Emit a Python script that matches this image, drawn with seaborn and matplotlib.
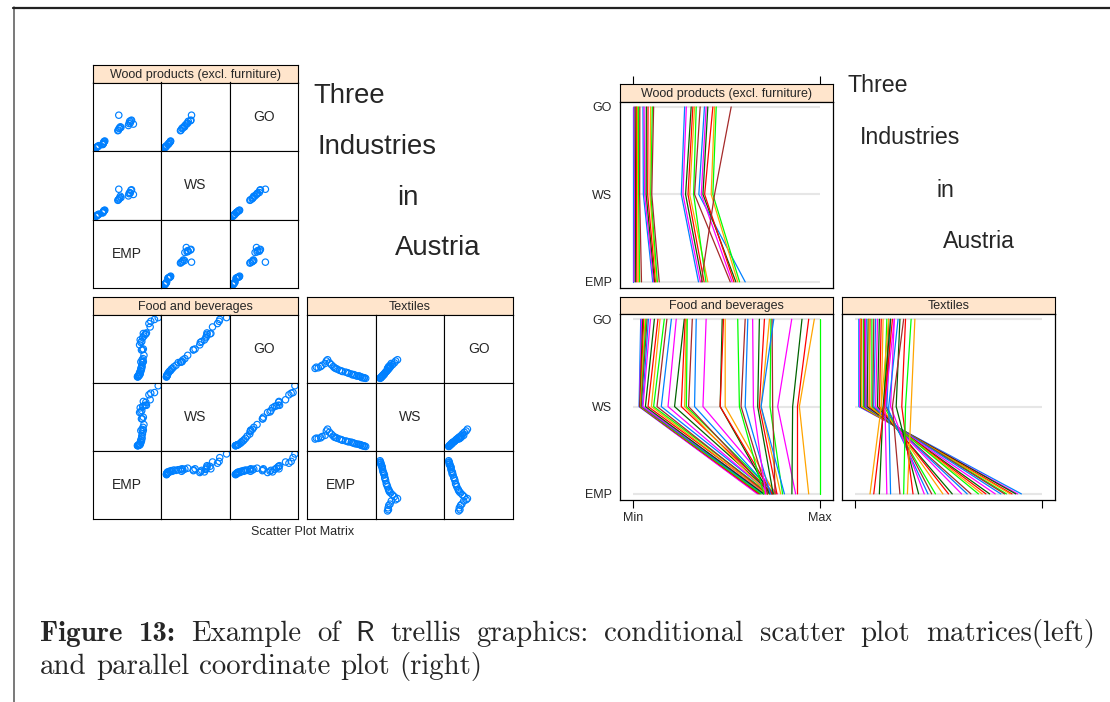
import numpy as np
import pandas as pd
import matplotlib
matplotlib.use("Agg")
import matplotlib.pyplot as plt
from matplotlib.lines import Line2D
import seaborn as sns

W, H = 1110, 702

# values scaled 0 (Min) .. 1 (Max) over all three industries
wood_go = [0.0, 0.005, 0.011, 0.018, 0.023, 0.028, 0.036, 0.053, 0.059, 0.071, 0.08, 0.094, 0.103, 0.11,
           0.276, 0.285, 0.311, 0.32, 0.329, 0.338, 0.359, 0.382, 0.391, 0.4, 0.427, 0.436, 0.445, 0.525]
wood_ws = [0.0, 0.008, 0.013, 0.018, 0.025, 0.03, 0.035, 0.055, 0.062, 0.07, 0.078, 0.09, 0.095, 0.1,
           0.258, 0.267, 0.281, 0.294, 0.303, 0.324, 0.329, 0.352, 0.365, 0.374, 0.383, 0.418, 0.427, 0.436]
wood_emp = [0.0, 0.005, 0.012, 0.02, 0.028, 0.035, 0.045, 0.105, 0.11, 0.115, 0.12, 0.125, 0.13, 0.14,
            0.35, 0.36, 0.37, 0.38, 0.40, 0.39, 0.52, 0.60, 0.53, 0.55, 0.54, 0.56, 0.57, 0.365]

food_go = [0.041, 0.046, 0.052, 0.057, 0.064, 0.069, 0.075, 0.082, 0.093, 0.114, 0.133, 0.144, 0.167, 0.181,
           0.205, 0.231, 0.274, 0.279, 0.285, 0.290, 0.317, 0.338, 0.391, 0.477, 0.484, 0.493, 0.560, 0.600,
           0.614, 0.640, 0.676, 0.703, 0.730, 0.738, 0.744, 0.753, 0.849, 0.904, 0.940, 0.970, 1.000]
food_ws = [0.032, 0.034, 0.036, 0.038, 0.040, 0.042, 0.044, 0.050, 0.053, 0.066, 0.080, 0.098, 0.110, 0.128,
           0.151, 0.187, 0.222, 0.258, 0.276, 0.285, 0.297, 0.329, 0.374, 0.466, 0.466, 0.493, 0.569, 0.578,
           0.600, 0.644, 0.667, 0.676, 0.685, 0.733, 0.747, 0.685, 0.774, 0.854, 0.880, 0.890, 1.000]
food_emp = [0.67, 0.665, 0.68, 0.675, 0.69, 0.685, 0.70, 0.695, 0.71, 0.70, 0.72, 0.715, 0.73, 0.72,
            0.74, 0.735, 0.745, 0.75, 0.72, 0.76, 0.74, 0.755, 0.77, 0.73, 0.745, 0.76, 0.70, 0.72,
            0.735, 0.71, 0.75, 0.77, 0.79, 0.80, 0.76, 0.81, 0.87, 0.85, 0.88, 0.94, 1.0]

tex_go = [0.02, 0.025, 0.03, 0.035, 0.03, 0.045, 0.05, 0.06, 0.055, 0.07, 0.08, 0.075, 0.09, 0.10, 0.11,
          0.12, 0.13, 0.14, 0.15, 0.17, 0.18, 0.19, 0.21, 0.24, 0.27, 0.32, 0.30, 0.26, 0.23, 0.21, 0.19,
          0.20, 0.18]
tex_ws = [0.02, 0.025, 0.03, 0.035, 0.035, 0.045, 0.05, 0.055, 0.06, 0.065, 0.075, 0.08, 0.09, 0.095, 0.10,
          0.11, 0.12, 0.13, 0.14, 0.155, 0.165, 0.17, 0.19, 0.22, 0.25, 0.30, 0.27, 0.20, 0.18, 0.16, 0.15,
          0.155, 0.14]
tex_emp = [0.89, 0.87, 0.86, 0.84, 0.83, 0.81, 0.80, 0.78, 0.75, 0.72, 0.70, 0.68, 0.66, 0.62, 0.60,
           0.57, 0.52, 0.50, 0.47, 0.43, 0.41, 0.39, 0.37, 0.34, 0.31, 0.28, 0.26, 0.24, 0.19, 0.17, 0.13,
           0.10, 0.08]

industries = ["Wood products (excl. furniture)", "Food and beverages", "Textiles"]
pc_colors = ["#0080ff", "#ff00ff", "darkgreen", "#ff0000", "orange", "#00ff00", "brown"]
strip_col = "#ffe5cc"

data = {
    industries[0]: pd.DataFrame({"GO": wood_go, "WS": wood_ws, "EMP": wood_emp}),
    industries[1]: pd.DataFrame({"GO": food_go, "WS": food_ws, "EMP": food_emp}),
    industries[2]: pd.DataFrame({"GO": tex_go, "WS": tex_ws, "EMP": tex_emp}),
}

sns.set_theme(style="white")
plt.rcParams['font.family'] = ['Liberation Sans', 'DejaVu Sans']

fig = plt.figure(figsize=(W / 100, H / 100), dpi=100)


def px_axes(l, t, r, b):
    return fig.add_axes([l / W, 1 - b / H, (r - l) / W, (b - t) / H])


def frame(ax, lw=0.8):
    for s in ax.spines.values():
        s.set_visible(True)
        s.set_color("black")
        s.set_linewidth(lw)


def strip(l, t, r, b, label):
    sa = px_axes(l, t, r, b)
    sa.set_facecolor(strip_col)
    sa.set_xticks([])
    sa.set_yticks([])
    frame(sa)
    sa.text(0.5, 0.45, label, ha="center", va="center", fontsize=9, transform=sa.transAxes)
    return sa


def splom(name, l, t, r, b, sh=17.5):
    df = data[name]
    strip(l, t, r, t + sh, name)
    cols = ["EMP", "WS", "GO"]
    rows = ["GO", "WS", "EMP"]
    cw = (r - l) / 3
    ch = (b - t - sh) / 3
    for i in range(3):
        for j in range(3):
            ax = px_axes(l + j * cw, t + sh + i * ch, l + (j + 1) * cw, t + sh + (i + 1) * ch)
            if i + j == 2:
                ax.text(0.5, 0.5, rows[i], ha="center", va="center", fontsize=10,
                        transform=ax.transAxes)
            else:
                sns.scatterplot(data=df, x=cols[j], y=rows[i], ax=ax, marker="o", s=21,
                                color="#0080ff", facecolor="none", edgecolor="#0080ff",
                                linewidth=0.85, legend=False)
            ax.set_xlim(-0.05, 1.05)
            ax.set_ylim(-0.05, 1.05)
            ax.set_xticks([])
            ax.set_yticks([])
            ax.set_xlabel("")
            ax.set_ylabel("")
            frame(ax)


splom(industries[0], 93, 65, 298, 288)
splom(industries[1], 93, 297, 298, 519)
splom(industries[2], 307, 297, 513, 519)
fig.text(303 / W, 1 - 532 / H, "Scatter Plot Matrix", ha="center", va="center", fontsize=9)


def parallel(name, l, t, r, b, sh=17, ylabels=False, top_ticks=False, bottom=None):
    df = data[name]
    long = []
    for k, row in df.iterrows():
        for var, pos in [("GO", 3), ("WS", 2), ("EMP", 1)]:
            long.append({"obs": f"{k:02d}", "value": row[var], "pos": pos})
    long = pd.DataFrame(long)
    pal = {f"{k:02d}": pc_colors[k % len(pc_colors)] for k in range(len(df))}

    sa = strip(l, t, r, t + sh, name)
    sa.set_xlim(-0.07, 1.07)
    if top_ticks:
        sa.set_xticks([0, 1])
        sa.set_xticklabels([])
        sa.tick_params(axis="x", top=True, bottom=False, direction="out", length=5.5,
                       width=0.8, color="black")

    ax = px_axes(l, t + sh, r, b)
    ax.hlines([1, 2, 3], 0, 1, color="#e6e6e6", lw=1.5, zorder=0)
    sns.lineplot(data=long, x="value", y="pos", hue="obs", palette=pal, estimator=None,
                 sort=False, legend=False, lw=0.9, ax=ax)
    ax.set_xlim(-0.07, 1.07)
    ax.set_ylim(0.93, 3.06)
    ax.set_xlabel("")
    ax.set_ylabel("")
    if ylabels:
        ax.set_yticks([1, 2, 3])
        ax.set_yticklabels(["EMP", "WS", "GO"])
        ax.tick_params(axis="y", length=0, pad=6, labelsize=9)
    else:
        ax.set_yticks([])
    if bottom is None:
        ax.set_xticks([])
    else:
        ax.set_xticks([0, 1])
        ax.set_xticklabels(bottom)
        ax.tick_params(axis="x", bottom=True, direction="out", length=5.5, width=0.8,
                       color="black", labelsize=9, pad=3)
    frame(ax, 0.9)


parallel(industries[0], 620, 84, 833, 288, sh=17.7, ylabels=True, top_ticks=True)
parallel(industries[1], 620, 297, 833, 500, ylabels=True, bottom=["Min", "Max"])
parallel(industries[2], 842, 297, 1055, 500, bottom=["", ""])

# titles
for txt, x, y in [("Three", 313, 96), ("Industries", 318, 147), ("in", 397, 198), ("Austria", 395, 248)]:
    fig.text(x / W, 1 - y / H, txt, ha="left", va="center", fontsize=19.8)
for txt, x, y in [("Three", 847, 86), ("Industries", 860, 138), ("in", 937, 190), ("Austria", 943, 241)]:
    fig.text(x / W, 1 - y / H, txt, ha="left", va="center", fontsize=16.7)

# page frame
fig.add_artist(Line2D([13.5 / W, 13.5 / W], [0, 1 - 7 / H], transform=fig.transFigure,
                      color="#555555", lw=1.1))
fig.add_artist(Line2D([13 / W, 1], [1 - 7.5 / H, 1 - 7.5 / H], transform=fig.transFigure,
                      color="#222222", lw=1.6))

# caption, line 1 justified
renderer = fig.canvas.get_renderer()
cap_fs = 20.8
rm = ["cmr10", "DejaVu Serif"]
bf = ["cmb10", "DejaVu Serif"]
ss = ["cmss10", "DejaVu Sans"]
line1 = [("Figure", bf), ("13:", bf), ("Example", rm), ("of", rm), ("R", ss), ("trellis", rm),
         ("graphics:", rm), ("conditional", rm), ("scatter", rm), ("plot", rm), ("matrices(left)", rm)]
line2 = [("and", rm), ("parallel", rm), ("coordinate", rm), ("plot", rm), ("(right)", rm)]


def place_words(words, y, x0, x1=None):
    arts = []
    for w, fam in words:
        t = fig.text(0, 1 - y / H, w, family=fam, fontsize=cap_fs, va="baseline", ha="left")
        arts.append((t, t.get_window_extent(renderer).width))
    total = sum(wd for _, wd in arts)
    gap = (x1 - x0 - total) / (len(arts) - 1) if x1 else cap_fs * 100 / 72 * 0.333
    x = x0
    for t, wd in arts:
        t.set_x(x / W)
        x += wd + gap


place_words(line1, 641, 40, 1095)
place_words(line2, 674, 40)

fig.savefig("out.png", dpi=100)
